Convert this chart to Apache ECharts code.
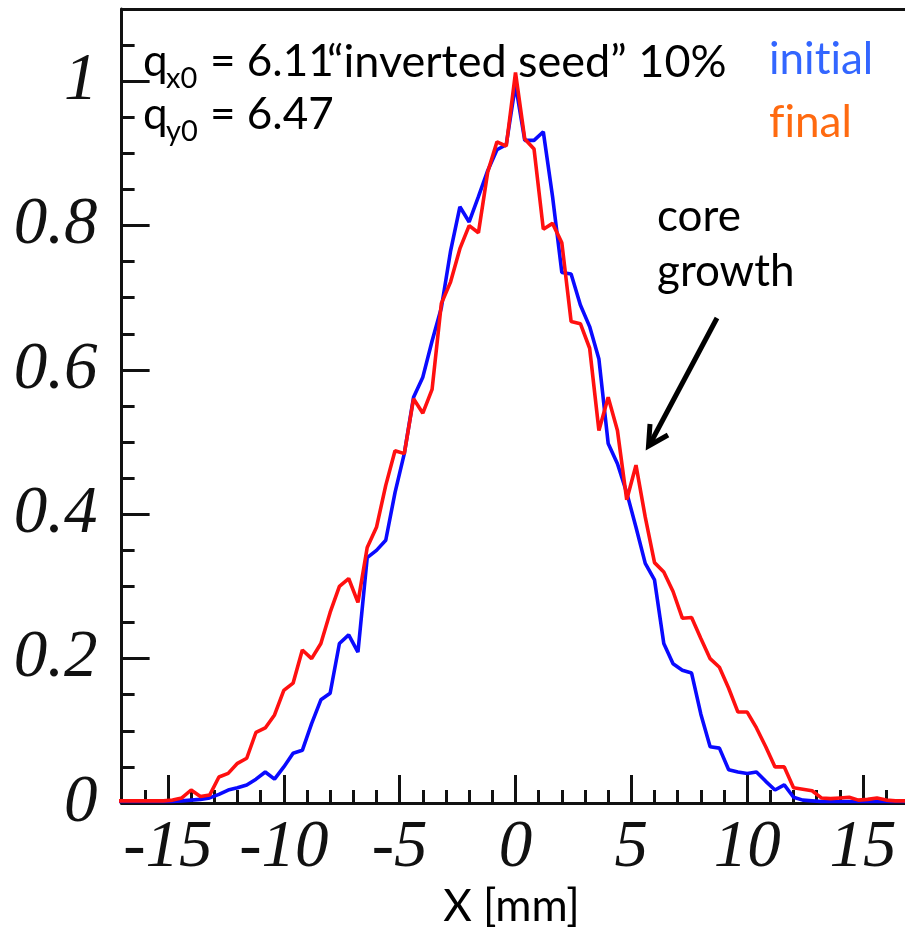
<!DOCTYPE html>
<html>
<head>
<meta charset="utf-8">
<script src="https://cdn.jsdelivr.net/npm/echarts@6/dist/echarts.min.js"></script>
<style>
html,body{margin:0;padding:0;background:#fff;}
#chart{width:905px;height:935px;}
</style>
</head>
<body>
<div id="chart"></div>
<script>
// bin positions (mm)
const xBins = [-17.2,-16.8,-16.4,-16.0,-15.6,-15.2,-14.8,-14.4,-14.0,-13.6,-13.2,-12.8,-12.4,-12.0,-11.6,-11.2,-10.8,-10.4,-10.0,-9.6,-9.2,-8.8,-8.4,-8.0,-7.6,-7.2,-6.8,-6.4,-6.0,-5.6,-5.2,-4.8,-4.4,-4.0,-3.6,-3.2,-2.8,-2.4,-2.0,-1.6,-1.2,-0.8,-0.4,0.0,0.4,0.8,1.2,1.6,2.0,2.4,2.8,3.2,3.6,4.0,4.4,4.8,5.2,5.6,6.0,6.4,6.8,7.2,7.6,8.0,8.4,8.8,9.2,9.6,10.0,10.4,10.8,11.2,11.6,12.0,12.4,12.8,13.2,13.6,14.0,14.4,14.8,15.2,15.6,16.0,16.4,16.8,17.2];
// "initial" profile (blue)
const initialVals = [0.002,0.002,0.002,0.002,0.002,0.002,0.002,0.003,0.004,0.005,0.007,0.012,0.018,0.021,0.025,0.033,0.043,0.033,0.050,0.069,0.073,0.110,0.143,0.152,0.221,0.233,0.209,0.340,0.350,0.364,0.430,0.484,0.562,0.590,0.640,0.686,0.765,0.826,0.805,0.840,0.876,0.905,0.912,0.995,0.918,0.918,0.930,0.840,0.735,0.733,0.690,0.660,0.615,0.498,0.470,0.430,0.382,0.332,0.309,0.221,0.193,0.184,0.180,0.123,0.078,0.076,0.046,0.043,0.041,0.043,0.030,0.018,0.025,0.008,0.004,0.003,0.002,0.002,0.002,0.002,0.002,0.002,0.002,0.002,0.002,0.002,0.002];
// "final" profile (red)
const finalVals = [0.003,0.003,0.003,0.003,0.003,0.003,0.004,0.007,0.018,0.009,0.011,0.036,0.041,0.055,0.062,0.098,0.104,0.122,0.156,0.166,0.212,0.200,0.221,0.264,0.300,0.311,0.278,0.354,0.382,0.440,0.488,0.484,0.560,0.540,0.573,0.692,0.722,0.768,0.800,0.790,0.874,0.916,0.910,1.012,0.920,0.906,0.795,0.803,0.776,0.667,0.664,0.630,0.516,0.562,0.516,0.420,0.468,0.396,0.333,0.320,0.293,0.256,0.257,0.228,0.200,0.188,0.159,0.126,0.126,0.104,0.078,0.050,0.050,0.021,0.019,0.017,0.007,0.006,0.007,0.008,0.004,0.005,0.007,0.004,0.003,0.003,0.003];

const chart = echarts.init(document.getElementById('chart'), null, {renderer: 'canvas'});

const serifLabel = {fontFamily: 'Liberation Serif', fontStyle: 'italic', fontSize: 67, color: '#111'};
const sans = 'Lato';
const F = '44px ' + sans;
const FS = '29px ' + sans;
const PX = 23.17;          // px per mm
const X0 = 515.5;          // px of x = 0
const gridTop = 9, gridH = 794;

const option = {
  animation: false,
  backgroundColor: '#fff',
  grid: [
    {left: X0 - 17 * PX, top: gridTop, width: 35 * PX, height: gridH, containLabel: false, outerBoundsMode: 'none'},
    {left: X0 - 15 * PX, top: gridTop, width: 30 * PX, height: gridH, containLabel: false, outerBoundsMode: 'none'}
  ],
  xAxis: [
    {gridIndex: 0, type: 'value', min: -17, max: 18, interval: 1, position: 'bottom',
     axisLine: {show: true, onZero: false, lineStyle: {color: '#111', width: 3}},
     axisTick: {show: true, inside: true, length: 13, lineStyle: {color: '#111', width: 3}},
     axisLabel: {show: false}, splitLine: {show: false}},
    {gridIndex: 0, type: 'value', min: -17, max: 18, interval: 1, position: 'top',
     axisLine: {show: true, onZero: false, lineStyle: {color: '#111', width: 3}},
     axisTick: {show: false}, axisLabel: {show: false}, splitLine: {show: false}},
    {gridIndex: 1, type: 'value', min: -15, max: 15, interval: 5, position: 'bottom',
     axisLine: {show: false, onZero: false},
     axisTick: {show: true, inside: true, length: 28, lineStyle: {color: '#111', width: 3}},
     axisLabel: Object.assign({margin: 12}, serifLabel), splitLine: {show: false}}
  ],
  yAxis: [
    {gridIndex: 0, type: 'value', min: 0, max: 1.1, interval: 0.05, position: 'left',
     axisLine: {show: true, onZero: false, lineStyle: {color: '#111', width: 3}},
     axisTick: {show: true, inside: true, length: 13, lineStyle: {color: '#111', width: 3}},
     axisLabel: {show: false}, splitLine: {show: false}},
    {gridIndex: 0, type: 'value', min: 0, max: 1.1, interval: 0.2, position: 'left',
     axisLine: {show: false, onZero: false},
     axisTick: {show: true, inside: true, length: 28, lineStyle: {color: '#111', width: 3}},
     axisLabel: Object.assign({margin: 24, showMaxLabel: false,
       formatter: function (v) { return Math.abs(v - 1.1) < 1e-6 ? '' : String(+v.toFixed(1)); }}, serifLabel),
     splitLine: {show: false}},
    {gridIndex: 1, type: 'value', min: 0, max: 1.1, show: false}
  ],
  series: [
    {name: 'initial', type: 'line', xAxisIndex: 0, yAxisIndex: 0, symbol: 'none', clip: true,
     lineStyle: {color: '#0a0aff', width: 3.6}, data: xBins.map((x, i) => [x, initialVals[i]])},
    {name: 'final', type: 'line', xAxisIndex: 0, yAxisIndex: 0, symbol: 'none', clip: true,
     lineStyle: {color: '#ff1010', width: 3.6}, data: xBins.map((x, i) => [x, finalVals[i]])}
  ],
  graphic: [
    {type: 'text', x: 143, y: 62, style: {text: 'q', font: F, fill: '#000', verticalAlign: 'middle'}},
    {type: 'text', x: 166, y: 79, style: {text: 'x0', font: FS, fill: '#000', verticalAlign: 'middle'}},
    {type: 'text', x: 210, y: 62, style: {text: '= 6.11', font: F, fill: '#000', verticalAlign: 'middle'}},
    {type: 'text', x: 327, y: 62, style: {text: '\u201Cinverted seed\u201D 10%', font: '45px ' + sans, fill: '#000', verticalAlign: 'middle'}},
    {type: 'text', x: 143, y: 115, style: {text: 'q', font: F, fill: '#000', verticalAlign: 'middle'}},
    {type: 'text', x: 166, y: 132, style: {text: 'y0', font: FS, fill: '#000', verticalAlign: 'middle'}},
    {type: 'text', x: 210, y: 115, style: {text: '= 6.47', font: F, fill: '#000', verticalAlign: 'middle'}},
    {type: 'text', x: 769, y: 60, style: {text: 'init\u200Cial', font: F, fill: '#3366ff', verticalAlign: 'middle'}},
    {type: 'text', x: 769, y: 123, style: {text: 'f\u200Cinal', font: F, fill: '#ff6a10', verticalAlign: 'middle'}},
    {type: 'text', x: 657, y: 217, style: {text: 'core', font: F, fill: '#000', verticalAlign: 'middle'}},
    {type: 'text', x: 657, y: 272, style: {text: 'growth', font: F, fill: '#000', verticalAlign: 'middle'}},
    {type: 'text', x: 511.5, y: 907, style: {text: 'X [mm]', font: F, fill: '#000', align: 'center', verticalAlign: 'middle'}},
    {type: 'line', shape: {x1: 717, y1: 318, x2: 650, y2: 444}, style: {stroke: '#000', lineWidth: 5}},
    {type: 'polyline', shape: {points: [[650, 424], [648.5, 446], [668, 435]]}, style: {stroke: '#000', lineWidth: 5, fill: null, lineJoin: 'miter'}}
  ]
};
chart.setOption(option);
</script>
</body>
</html>
